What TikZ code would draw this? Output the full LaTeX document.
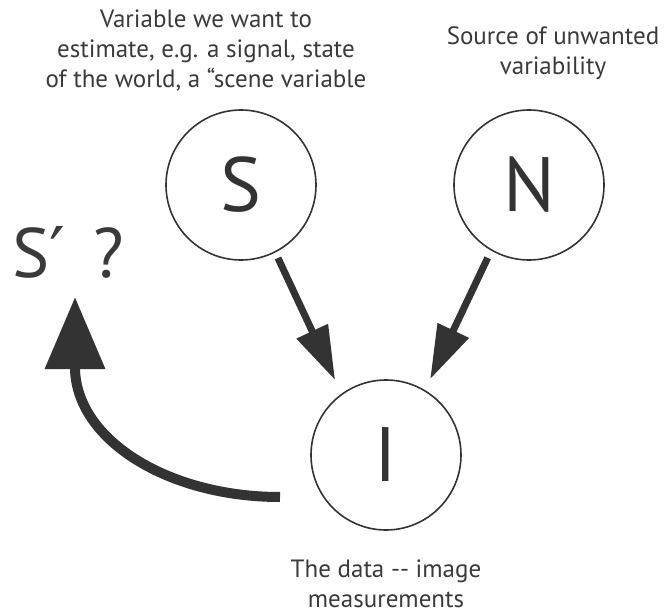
\documentclass[tikz,border=0pt]{standalone}
\usepackage{fontspec}
\setmainfont{PT Sans}
\newfontfamily\symfont{DejaVu Sans}
\usetikzlibrary{arrows.meta}
\definecolor{ink}{HTML}{333333}
\definecolor{txt}{HTML}{3A3A3A}
\tikzset{
  var/.style={circle, draw=ink, line width=1.6pt, inner sep=0pt, minimum size=150pt,
    text=ink, font=\fontsize{77}{77}\selectfont},
  caption/.style={align=center, text=txt, font=\fontsize{25}{30}\selectfont, inner sep=0pt, anchor=base},
  link/.style={draw=ink, line width=7pt, -{Triangle[length=54pt, width=33pt]}},
  back/.style={draw=ink, line width=10pt, -{Triangle[length=72pt, width=58pt]}},
}
\begin{document}
\begin{tikzpicture}[x=1pt, y=-1pt]
\useasboundingbox (0,0) rectangle (664,615);
\node[var] (S) at (241,185) {S};
\node[var] (N) at (529,185) {N};
\node[var] (I) at (386,455) {I};
\node[caption] (capS) at (206,88) {Variable we want to\\estimate, e.g. a signal, state\\of the world, a “scene variable};
\node[caption] (capN) at (553,75) {Source of unwanted\\variability};
\node[caption] (capI) at (386,607) {The data {-}{-} image\\measurements};
\node[anchor=base west, inner sep=0pt, text=txt, font=\fontsize{70}{70}\selectfont] (est) at (12,277) {S{\symfont ′} \hspace{10pt}?};
\coordinate (tail) at (280,497);
\coordinate (tip) at (75,297);
\draw[link, shorten <=6pt, shorten >=15pt] (S.-63.7) -- (I.126);
\draw[link, shorten <=8pt, shorten >=12pt] (N.-120.3) -- (I.59.6);
\draw[back, line cap=butt] (tail) .. controls (167,497) and (75,439) .. (75,367) -- (tip);
\end{tikzpicture}
\end{document}
